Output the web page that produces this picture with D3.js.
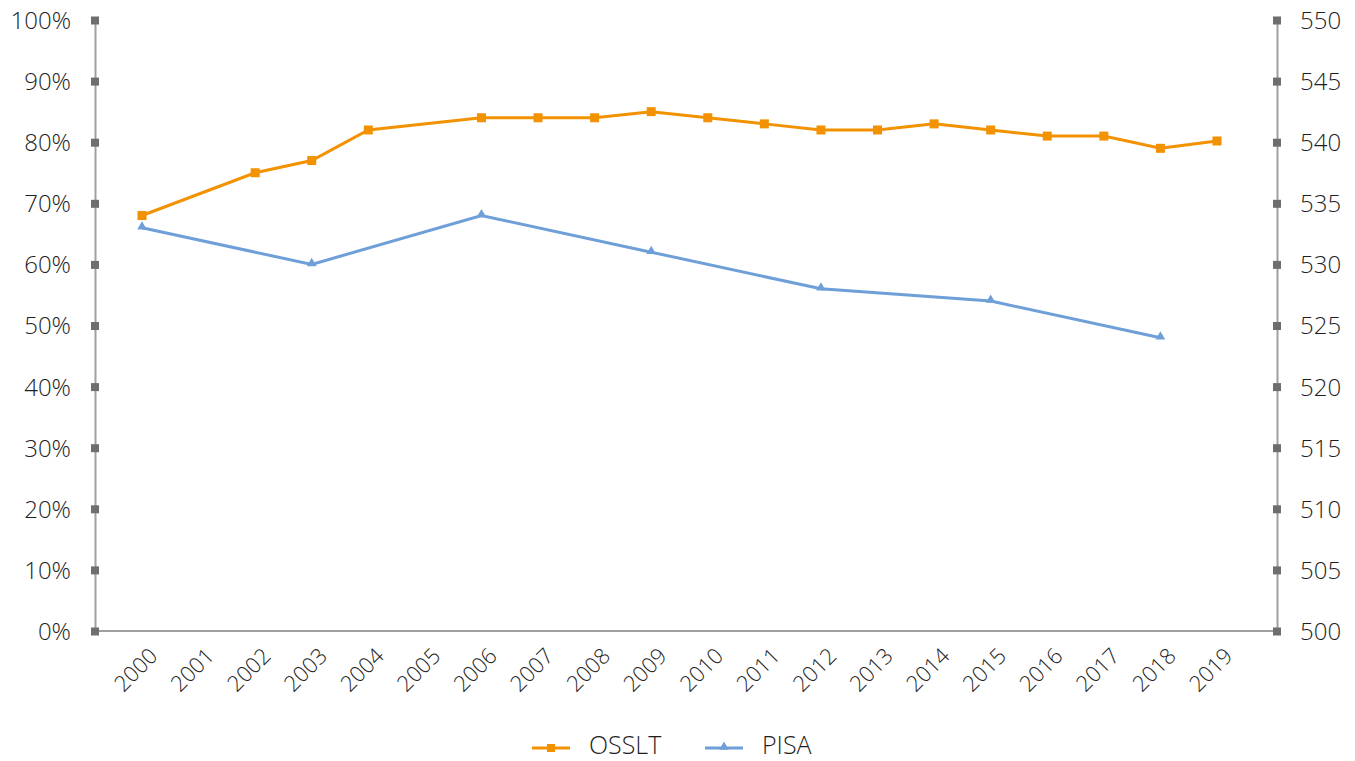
<!DOCTYPE html>
<html>
<head>
    <meta charset="utf-8">
    <title>OSSLT vs PISA</title>
    <style>
        body { margin: 0; background: #fff; }
        text { font-family: "Open Sans", sans-serif; font-weight: 300; fill: #1e1e1e; }
    </style>
</head>
<body>
<div id='plot'></div>
<script src="https://cdn.jsdelivr.net/npm/d3@7/dist/d3.min.js"></script>
<script>

    // years on the x axis
    let years = ['2000','2001','2002','2003','2004','2005','2006','2007','2008','2009',
                 '2010','2011','2012','2013','2014','2015','2016','2017','2018','2019'];

    // OSSLT success rate (%), 2001 and 2005 missing
    let ossltYears = ['2000','2002','2003','2004','2006','2007','2008','2009','2010',
                      '2011','2012','2013','2014','2015','2016','2017','2018','2019'];
    let ossltValues = [68, 75, 77, 82, 84, 84, 84, 85, 84, 83, 82, 82, 83, 82, 81, 81, 79, 80.2];

    // PISA reading score (every three years)
    let pisaYears = ['2000','2003','2006','2009','2012','2015','2018'];
    let pisaValues = [533, 530, 534, 531, 528, 527, 524];

    let leftTicks = [0,10,20,30,40,50,60,70,80,90,100];
    let rightTicks = [500,505,510,515,520,525,530,535,540,545,550];

    let svgWidth = 1355;
    let svgHeight = 761;
    let orange = '#f39200';
    let blue = '#6e9fd8';
    let axisGray = '#a0a0a0';
    let tickGray = '#6e6e6e';

    function translate(x,y) {
      return 'translate(' + x + ',' + y + ')'
    }

    let svg = d3.select('#plot')
      .append('svg')
        .attr('width', svgWidth)
        .attr('height', svgHeight);

    let x = d3.scalePoint()
      .domain(years)
      .range([142, 1217]);

    let yLeft = d3.scaleLinear()
      .domain([0, 100])
      .range([631, 20]);

    let yRight = d3.scaleLinear()
      .domain([500, 550])
      .range([631, 20]);

    let left = 95, right = 1277;

    // x axis line
    svg.append('line')
      .attr('x1', left).attr('x2', right)
      .attr('y1', yLeft(0)).attr('y2', yLeft(0))
      .attr('stroke', axisGray).attr('stroke-width', 2);

    // left axis
    let lAxis = d3.axisLeft(yLeft)
      .tickValues(leftTicks)
      .tickFormat(d => d + '%')
      .tickSize(0)
      .tickPadding(24);
    let gl = svg.append('g').attr('transform', translate(left, 0)).call(lAxis);
    gl.select('.domain').attr('stroke', axisGray).attr('stroke-width', 2);
    gl.selectAll('text').style('font-size', '24px').attr('dy', '0.35em');
    gl.selectAll('.tick').append('rect')
      .attr('x', -4).attr('y', -4).attr('width', 8).attr('height', 8)
      .attr('fill', tickGray);

    // right axis
    let rAxis = d3.axisRight(yRight)
      .tickValues(rightTicks)
      .tickSize(0)
      .tickPadding(23);
    let gr = svg.append('g').attr('transform', translate(right, 0)).call(rAxis);
    gr.select('.domain').attr('stroke', axisGray).attr('stroke-width', 2);
    gr.selectAll('text').style('font-size', '24px').attr('dy', '0.35em');
    gr.selectAll('.tick').append('rect')
      .attr('x', -4).attr('y', -4).attr('width', 8).attr('height', 8)
      .attr('fill', tickGray);

    // year labels, rotated
    let xAxis = d3.axisBottom(x).tickSize(0).tickPadding(0);
    let gx = svg.append('g').attr('transform', translate(0, yLeft(0))).call(xAxis);
    gx.select('.domain').remove();
    gx.selectAll('text')
      .style('font-size', '22px')
      .attr('text-anchor', 'end')
      .attr('dy', '0.35em')
      .attr('transform', 'translate(11,21) rotate(-45)');

    // OSSLT line
    let ossltData = ossltYears.map((d,i) => ({year: d, v: ossltValues[i]}));
    svg.append('path')
      .datum(ossltData)
      .attr('fill', 'none')
      .attr('stroke', orange)
      .attr('stroke-width', 3)
      .attr('d', d3.line().x(d => x(d.year)).y(d => yLeft(d.v)));
    svg.selectAll('.osslt')
      .data(ossltData)
      .enter()
        .append('rect')
        .attr('class', 'osslt')
        .attr('x', d => x(d.year) - 4.5)
        .attr('y', d => yLeft(d.v) - 4.5)
        .attr('width', 9).attr('height', 9)
        .attr('fill', orange);

    // PISA line
    let pisaData = pisaYears.map((d,i) => ({year: d, v: pisaValues[i]}));
    svg.append('path')
      .datum(pisaData)
      .attr('fill', 'none')
      .attr('stroke', blue)
      .attr('stroke-width', 3)
      .attr('d', d3.line().x(d => x(d.year)).y(d => yRight(d.v)));
    let tri = d3.symbol().type(d3.symbolTriangle).size(40);
    svg.selectAll('.pisa')
      .data(pisaData)
      .enter()
        .append('path')
        .attr('class', 'pisa')
        .attr('transform', d => translate(x(d.year), yRight(d.v) - 1))
        .attr('d', tri)
        .attr('fill', blue);

    // legend
    let legend = svg.append('g').attr('transform', translate(0, 748));
    legend.append('line').attr('x1', 532).attr('x2', 570).attr('y1', 0).attr('y2', 0)
      .attr('stroke', orange).attr('stroke-width', 3);
    legend.append('rect').attr('x', 547).attr('y', -4).attr('width', 8).attr('height', 8)
      .attr('fill', orange);
    legend.append('text').attr('x', 589).attr('y', 6)
      .style('font-size', '25px').text('OSSLT');
    legend.append('line').attr('x1', 705).attr('x2', 743).attr('y1', 0).attr('y2', 0)
      .attr('stroke', blue).attr('stroke-width', 3);
    legend.append('path').attr('transform', translate(724, -1)).attr('d', tri).attr('fill', blue);
    legend.append('text').attr('x', 762).attr('y', 6)
      .style('font-size', '25px').text('PISA');

</script>
</body>
</html>
